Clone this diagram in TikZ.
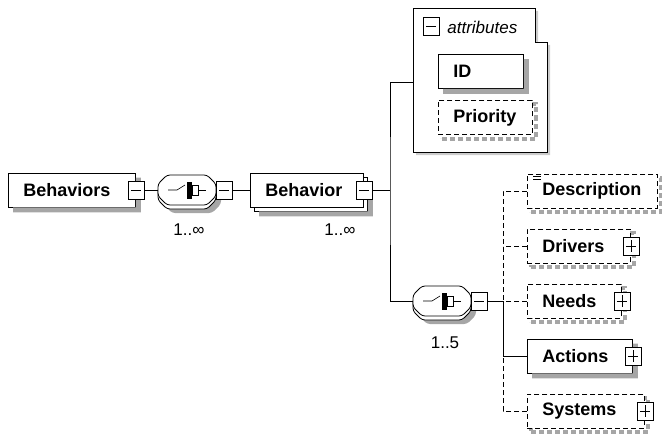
\documentclass[tikz,border=0pt]{standalone}
\usepackage{fontspec}
\setmainfont{Liberation Sans}

\begin{document}
\begin{tikzpicture}[x=1pt, y=-1pt, line width=0.8pt,
		every node/.style={font=\fontsize{18}{20}\selectfont\bfseries},
		box/.style={draw, fill=white, anchor=west, minimum height=34pt, inner xsep=15pt, inner ysep=0pt, align=left},
		optbox/.style={box, dash pattern=on 5pt off 3pt,
			preaction={draw=black!35, line width=4pt, transform canvas={xshift=4pt, yshift=-4pt}}},
		multbox/.style={box, preaction={draw, fill=white, transform canvas={xshift=4pt, yshift=-4pt}}},
		shadowfill/.style={fill=black!35},
		seqgroup/.pic={
			\fill[black!35, rounded corners=3pt, shift={(5,8)}] (-20,-15) -- (20,-15) -- (29,-6) -- (29,6) -- (20,15) -- (-20,15) -- (-29,6) -- (-29,-6) -- cycle;
			\draw[fill=white, rounded corners=3pt, shift={(0,4)}] (-20,-15) -- (20,-15) -- (29,-6) -- (29,6) -- (20,15) -- (-20,15) -- (-29,6) -- (-29,-6) -- cycle;
			\draw[fill=white, rounded corners=3pt] (-20,-15) -- (20,-15) -- (29,-6) -- (29,6) -- (20,15) -- (-20,15) -- (-29,6) -- (-29,-6) -- cycle;
			\draw[line width=0.6pt] (-19,0) -- (-10,0) -- (-2,-5);
			\fill[black] (0,-8) rectangle (5,9);
			\draw[line width=0.6pt] (5,-5) rectangle (11,5);
			\draw[line width=0.6pt] (11,0) -- (19,0);
			\node[minimum width=58pt, minimum height=30pt, inner sep=0pt] (-box) at (0,0) {};
		},
		pmbox/.style={draw, fill=white, minimum width=16pt, minimum height=18pt, inner sep=0pt, line width=0.6pt},
		minus/.style={pmbox, path picture={
				\draw ([xshift=3pt]path picture bounding box.west) -- ([xshift=-3pt]path picture bounding box.east);}},
		plus/.style={pmbox, path picture={
				\draw ([xshift=3pt]path picture bounding box.west) -- ([xshift=-3pt]path picture bounding box.east);
				\draw ([yshift=-3pt]path picture bounding box.north) -- ([yshift=3pt]path picture bounding box.south);}},
		occ/.style={font=\fontsize{17}{19}\selectfont},
		attrlabel/.style={font=\fontsize{17}{19}\selectfont\itshape, anchor=west, inner sep=0pt},
		optline/.style={dash pattern=on 5pt off 3pt}]
		\useasboundingbox (0,0) rectangle (662,436);
		
		\node[box, text width=97pt] (behaviors) at (8,190) {Behaviors};
		\pic (seq1) at (187,190) {seqgroup};
		\node[occ] (seq1-occ) at (189,230) {1..∞};
		\node[multbox, text width=83pt] (behavior) at (250,190) {Behavior};
		\node[occ] (behavior-occ) at (340,230) {1..∞};
		
		\fill[black!20] (416,11) -- (538,11) -- (538,45) -- (550,45) -- (550,155) -- (416,155) -- cycle;
		\draw[fill=white] (413,8) -- (535,8) -- (535,42) -- (547,42) -- (547,152) -- (413,152) -- cycle;
		\coordinate (attr-in) at (413,82);
		\node[attrlabel] (attr-label) at (447,27) {attributes};
		\node[box, text width=55pt] (id) at (438,71.5) {ID};
		\node[optbox, text width=64pt] (priority) at (438,117.5) {Priority};
		
		\pic (seq2) at (442,301) {seqgroup};
		\node[occ] (seq2-occ) at (445,343) {1..5};
		\coordinate (trunk) at (503,301);
		
		\node[optbox, text width=100pt] (descr) at (527,191) {Description};
		\node[optbox, text width=73pt] (drivers) at (527,246) {Drivers};
		\node[optbox, text width=64pt] (needs) at (527,301) {Needs};
		\node[box, text width=75pt] (actions) at (527,356) {Actions};
		\node[optbox, text width=87pt] (systems) at (527,411) {Systems};
		
		\foreach \n in {behaviors,id,actions}
			\fill[shadowfill] ([yshift=-5pt]\n.north east) -- ([xshift=5pt,yshift=-5pt]\n.north east)
				-- ([xshift=5pt,yshift=-5pt]\n.south east) -- ([xshift=5pt,yshift=-5pt]\n.south west)
				-- ([xshift=5pt]\n.south west) -- (\n.south east) -- cycle;
		\fill[shadowfill] ([xshift=4pt,yshift=-9pt]behavior.north east) -- ([xshift=9pt,yshift=-9pt]behavior.north east)
			-- ([xshift=9pt,yshift=-9pt]behavior.south east) -- ([xshift=9pt,yshift=-9pt]behavior.south west)
			-- ([xshift=9pt,yshift=-4pt]behavior.south west) -- ([xshift=4pt,yshift=-4pt]behavior.south east) -- cycle;
		
		\node[minus] (behaviors-pm) at (behaviors.east) {};
		\node[minus] (seq1-pm) at ([xshift=8pt]seq1-box.east) {};
		\node[minus] (behavior-pm) at (behavior.east) {};
		\node[minus] (attr-pm) at (431,26) {};
		\node[minus] (seq2-pm) at ([xshift=8pt]seq2-box.east) {};
		\node[plus] (drivers-pm) at (drivers.east) {};
		\node[plus] (needs-pm) at (needs.east) {};
		\node[plus] (actions-pm) at (actions.east) {};
		\node[plus] (systems-pm) at (systems.east) {};
		
		\draw[line width=0.6pt] ([xshift=6pt,yshift=-3pt]descr.north west) -- ++(8,0);
		\draw[line width=0.6pt] ([xshift=6pt,yshift=-6pt]descr.north west) -- ++(8,0);
		
		\coordinate (spine) at (390,190);
		\draw (behaviors-pm.east) -- (seq1-box.west);
		\draw (seq1-pm.east) -- (behavior.west);
		\draw (behavior-pm.east) -- (spine);
		\draw (attr-in) -| (spine) |- (seq2-box.west);
		
		\draw (seq2-pm.east) -- (trunk);
		\draw[optline] (descr.west) -| (trunk);
		\draw[optline] (drivers.west) -- (drivers.west -| trunk);
		\draw[optline] (needs.west) -- (trunk);
		\draw (actions.west) -| (trunk);
		\draw[optline] (systems.west) -| (trunk |- actions.west);
	\end{tikzpicture}
\end{document}
